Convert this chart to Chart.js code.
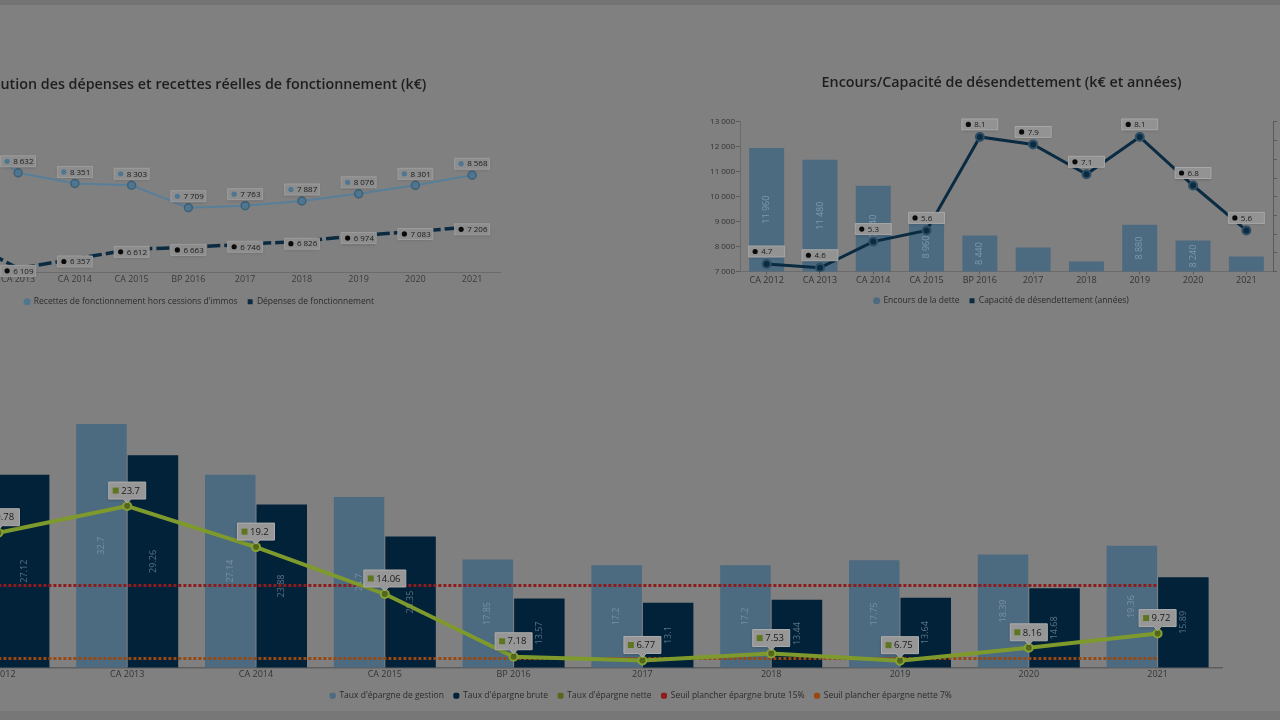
<!DOCTYPE html>
<html lang="fr">
<head>
<meta charset="UTF-8">
<title>Tableau de bord financier</title>
<script src="https://cdn.jsdelivr.net/npm/chart.js"></script>
<style>
  html, body { margin: 0; padding: 0; }
  body { width: 1280px; height: 720px; overflow: hidden; background: #808080; position: relative; }
  canvas { position: absolute; }
  .bande-haut { position: absolute; left: 0; top: 0; width: 1280px; height: 5px; background: #737373; }
  .bande-bas { position: absolute; left: 0; top: 711px; width: 1280px; height: 9px; background: #777777; }
</style>
</head>
<body>
<div class="bande-haut"></div>
<canvas id="fonct" width="620" height="254" style="left:-110px; top:62px;"></canvas>
<canvas id="encours" width="640" height="255" style="left:690px; top:60px;"></canvas>
<canvas id="epargne" width="1428" height="330" style="left:-80px; top:380px;"></canvas>
<div class="bande-bas"></div>

<script>
// années communes aux trois graphiques
const annees = ['CA 2012', 'CA 2013', 'CA 2014', 'CA 2015', 'BP 2016', '2017', '2018', '2019', '2020', '2021'];

// dépenses / recettes réelles de fonctionnement (k€)
const recettes = [9700, 8632, 8351, 8303, 7709, 7763, 7887, 8076, 8301, 8568];
const depenses = [6900, 6109, 6357, 6612, 6663, 6746, 6826, 6974, 7083, 7206];

// encours de la dette (k€) et capacité de désendettement (années)
const encours = [11960, 11480, 10440, 8960, 8440, 7960, 7400, 8880, 8240, 7600];
const capacite = [4.7, 4.6, 5.3, 5.6, 8.1, 7.9, 7.1, 8.1, 6.8, 5.6];
const encoursTicks = [7000, 13000, 1000];
const capaciteTicks = [4.5, 8.5, 0.5];

// taux d'épargne (%)
const tauxGestion = [30.2, 32.7, 27.14, 24.7, 17.85, 17.2, 17.2, 17.75, 18.39, 19.36];
const tauxBrute = [27.12, 29.26, 23.88, 20.35, 13.57, 13.1, 13.44, 13.64, 14.68, 15.89];
const tauxNette = [20.78, 23.7, 19.2, 14.06, 7.18, 6.77, 7.53, 6.75, 8.16, 9.72];
const seuilBrute = 15;
const seuilNette = 7;

Chart.defaults.font.family = '"Open Sans", sans-serif';
Chart.defaults.color = '#333';

const milliers = v => Math.round(v).toString().replace(/\B(?=(\d{3})+(?!\d))/g, ' ');
const decimal = v => String(v);

// légende dans l'ordre des séries, avec un style de pastille par série
function pastilles(styles) {
  return chart => Chart.defaults.plugins.legend.labels.generateLabels(chart)
    .sort((a, b) => a.datasetIndex - b.datasetIndex)
    .map(l => {
      l.pointStyle = styles[l.datasetIndex];
      l.lineWidth = 0;
      l.strokeStyle = 'transparent';
      return l;
    });
}

// étiquettes encadrées au-dessus des points
const etiquettes = {
  id: 'etiquettes',
  afterDatasetsDraw(chart) {
    const ctx = chart.ctx;
    chart.data.datasets.forEach((ds, di) => {
      const o = ds.etiquette;
      if (!o) return;
      const meta = chart.getDatasetMeta(di);
      ctx.save();
      ctx.font = o.size + 'px "Open Sans"';
      ctx.textBaseline = 'middle';
      meta.data.forEach((pt, i) => {
        const txt = o.format(ds.data[i]);
        const w = o.width || Math.round(ctx.measureText(txt).width + 18);
        const left = pt.x - w / 2;
        const top = pt.y + o.dy;
        const bottom = top + o.h;
        ctx.beginPath();
        ctx.moveTo(left, top);
        ctx.lineTo(left + w, top);
        ctx.lineTo(left + w, bottom);
        if (o.pointe) {
          ctx.lineTo(pt.x + 4, bottom);
          ctx.lineTo(pt.x, bottom + 4);
          ctx.lineTo(pt.x - 4, bottom);
        }
        ctx.lineTo(left, bottom);
        ctx.closePath();
        ctx.shadowColor = 'rgba(0,0,0,0.25)';
        ctx.shadowBlur = 3;
        ctx.shadowOffsetY = 1;
        ctx.fillStyle = o.fill;
        ctx.fill();
        ctx.shadowColor = 'transparent';
        ctx.strokeStyle = o.stroke;
        ctx.lineWidth = 1;
        ctx.stroke();
        const my = top + o.h / 2;
        ctx.fillStyle = o.marker;
        ctx.beginPath();
        if (o.carre) ctx.rect(left + 4, my - 3, 6, 6);
        else ctx.arc(left + 6.5, my, 2.6, 0, Math.PI * 2);
        ctx.fill();
        ctx.fillStyle = '#1a1a1a';
        ctx.fillText(txt, left + 12.5, my + 0.5);
      });
      ctx.restore();
    });
  }
};

// valeurs verticales dans les barres
const valeursBarres = {
  id: 'valeursBarres',
  afterDatasetDraw(chart, args) {
    const ds = chart.data.datasets[args.index];
    const o = ds.interieur;
    if (!o) return;
    const ctx = chart.ctx;
    const fond = chart.chartArea.bottom;
    ctx.save();
    ctx.font = o.size + 'px "Open Sans"';
    ctx.fillStyle = o.color;
    ctx.textAlign = 'center';
    ctx.textBaseline = 'middle';
    args.meta.data.forEach((bar, i) => {
      const txt = o.format(ds.data[i]);
      const base = Math.min(bar.base, fond);
      if (base - bar.y < ctx.measureText(txt).width + 6) return;
      ctx.save();
      ctx.translate(bar.x, (bar.y + base) / 2);
      ctx.rotate(-Math.PI / 2);
      ctx.fillText(txt, 0, 0);
      ctx.restore();
    });
    ctx.restore();
  }
};

const titre = (texte, bas) => ({
  display: true, text: texte, color: '#1e1e1e',
  font: { size: 14.3, weight: '600' },
  padding: { top: 0, bottom: bas }
});

const legende = styles => ({
  position: 'bottom',
  labels: { usePointStyle: true, boxWidth: 5, boxHeight: 5, color: '#2b2b2b', font: { size: 8.5 }, padding: 10, generateLabels: pastilles(styles) }
});

// 1. dépenses et recettes de fonctionnement
new Chart(document.getElementById('fonct'), {
  type: 'line',
  data: {
    labels: annees,
    datasets: [
      {
        label: "Recettes de fonctionnement hors cessions d'immos",
        data: recettes,
        borderColor: '#587f99', backgroundColor: '#587f99', borderWidth: 2,
        pointRadius: 4, pointBackgroundColor: '#4f7690', pointBorderColor: '#3e6077', pointBorderWidth: 1.5,
        etiquette: { size: 8, dy: -17, h: 11, width: 35, fill: '#8d8d8d', stroke: '#9d9d9d', marker: '#4f7690', format: milliers }
      },
      {
        label: 'Dépenses de fonctionnement',
        data: depenses,
        borderColor: '#0b2b42', backgroundColor: '#0b2b42', borderWidth: 3.5, borderDash: [13, 4],
        pointRadius: 3, pointBackgroundColor: '#0b2b42', pointBorderWidth: 0,
        etiquette: { size: 8, dy: -3, h: 11, width: 35, fill: '#8d8d8d', stroke: '#9d9d9d', marker: '#0a0a0a', format: milliers }
      }
    ]
  },
  options: {
    responsive: false,
    animation: false,
    layout: { padding: { left: 8, right: 9.5, top: 14, bottom: 0 } },
    scales: {
      x: {
        offset: true,
        grid: { display: false, drawTicks: false },
        border: { color: '#6b6b6b' },
        ticks: { color: '#3a3a3a', font: { size: 9 }, padding: 2 },
        afterFit: s => { s.height = 15; }
      },
      y: {
        min: 6000, max: 10000,
        grid: { display: false },
        border: { display: false },
        ticks: { color: '#3a3a3a', font: { size: 9 }, callback: milliers },
        afterFit: s => { s.width = 35; }
      }
    },
    plugins: {
      title: titre('Évolution des dépenses et recettes réelles de fonctionnement (k€)', 27.8),
      legend: legende(['circle', 'rect']),
      tooltip: { enabled: false }
    }
  },
  plugins: [etiquettes]
});

// 2. encours et capacité de désendettement
new Chart(document.getElementById('encours'), {
  data: {
    labels: annees,
    datasets: [
      {
        type: 'bar', order: 1, yAxisID: 'y',
        label: 'Encours de la dette',
        data: encours,
        backgroundColor: '#4c6a80',
        categoryPercentage: 0.8, barPercentage: 0.82,
        interieur: { size: 9, color: '#7f98ab', format: milliers }
      },
      {
        type: 'line', order: 0, yAxisID: 'y2',
        label: 'Capacité de désendettement (années)',
        data: capacite,
        borderColor: '#0a2b42', backgroundColor: '#0a2b42', borderWidth: 3,
        pointRadius: 4, pointBackgroundColor: '#0a2b42', pointBorderColor: '#2f4f64', pointBorderWidth: 2,
        etiquette: { size: 8, dy: -18, h: 11, width: 36, fill: '#939393', stroke: '#a8a8a8', marker: '#0a0a0a', format: decimal }
      }
    ]
  },
  options: {
    responsive: false,
    animation: false,
    layout: { padding: { left: 10, right: 27, top: 14, bottom: 0 } },
    scales: {
      x: {
        grid: { display: true, drawOnChartArea: false, offset: false, tickLength: 3, color: '#5a5a5a' },
        border: { color: '#6b6b6b' },
        ticks: { color: '#333', font: { size: 9 }, padding: 1 },
        afterFit: s => { s.height = 15; }
      },
      y: {
        min: encoursTicks[0], max: encoursTicks[1],
        grid: { drawOnChartArea: false, tickLength: 4, color: '#5a5a5a' },
        border: { color: '#6b6b6b' },
        ticks: { stepSize: encoursTicks[2], color: '#333', font: { size: 8 }, padding: 1, callback: milliers },
        afterFit: s => { s.width = 40; }
      },
      y2: {
        position: 'right',
        min: capaciteTicks[0], max: capaciteTicks[1],
        grid: { drawOnChartArea: false, tickLength: 4, color: '#5a5a5a' },
        border: { color: '#5a5a5a' },
        ticks: { stepSize: capaciteTicks[2], color: '#333', font: { size: 8 }, padding: 3 },
        afterFit: s => { s.width = 30; }
      }
    },
    plugins: {
      title: titre('Encours/Capacité de désendettement (k€ et années)', 30.8),
      legend: legende(['circle', 'rect']),
      tooltip: { enabled: false }
    }
  },
  plugins: [valeursBarres, etiquettes]
});

// 3. taux d'épargne
new Chart(document.getElementById('epargne'), {
  data: {
    labels: annees,
    datasets: [
      {
        type: 'bar', order: 2,
        label: "Taux d'épargne de gestion",
        data: tauxGestion,
        backgroundColor: '#4c6a80',
        categoryPercentage: 0.8, barPercentage: 0.98,
        interieur: { size: 9, color: '#7890a3', format: decimal }
      },
      {
        type: 'bar', order: 2,
        label: "Taux d'épargne brute",
        data: tauxBrute,
        backgroundColor: '#02223a',
        categoryPercentage: 0.8, barPercentage: 0.98,
        interieur: { size: 9, color: '#5c7286', format: decimal }
      },
      {
        type: 'line', order: 0,
        label: "Taux d'épargne nette",
        data: tauxNette,
        borderColor: '#7e9a2c', backgroundColor: '#7e9a2c', borderWidth: 4,
        pointRadius: 4, pointBackgroundColor: '#55681c', pointBorderColor: '#86a232', pointBorderWidth: 2,
        etiquette: { size: 9.5, dy: -24, h: 17, pointe: true, carre: true, fill: '#979797', stroke: '#adadad', marker: '#5f7620', format: decimal }
      },
      {
        type: 'line', order: 1,
        label: 'Seuil plancher épargne brute 15%',
        data: annees.map(() => seuilBrute),
        borderColor: '#8e1c1c', backgroundColor: '#8e1c1c', borderWidth: 3, borderDash: [3, 2],
        pointRadius: 0
      },
      {
        type: 'line', order: 1,
        label: 'Seuil plancher épargne nette 7%',
        data: annees.map(() => seuilNette),
        borderColor: '#974813', backgroundColor: '#974813', borderWidth: 3, borderDash: [3, 2],
        pointRadius: 0
      }
    ]
  },
  options: {
    responsive: false,
    animation: false,
    layout: { padding: { left: 14, right: 0, top: 23, bottom: 0 } },
    scales: {
      x: {
        grid: { display: false, drawTicks: false },
        border: { color: '#5e5e5e', width: 1.5 },
        ticks: { color: '#333', font: { size: 9 }, padding: 2 },
        afterFit: s => { s.height = 14; }
      },
      y: { min: 6, max: 35, display: false },
      y2: {
        position: 'right',
        grid: { display: false },
        border: { display: false },
        ticks: { display: false },
        afterFit: s => { s.width = 126; }
      }
    },
    plugins: {
      legend: legende(['rectRounded', 'rectRounded', 'rectRounded', 'rectRounded', 'rectRounded']),
      tooltip: { enabled: false }
    }
  },
  plugins: [valeursBarres, etiquettes]
});
</script>
</body>
</html>
